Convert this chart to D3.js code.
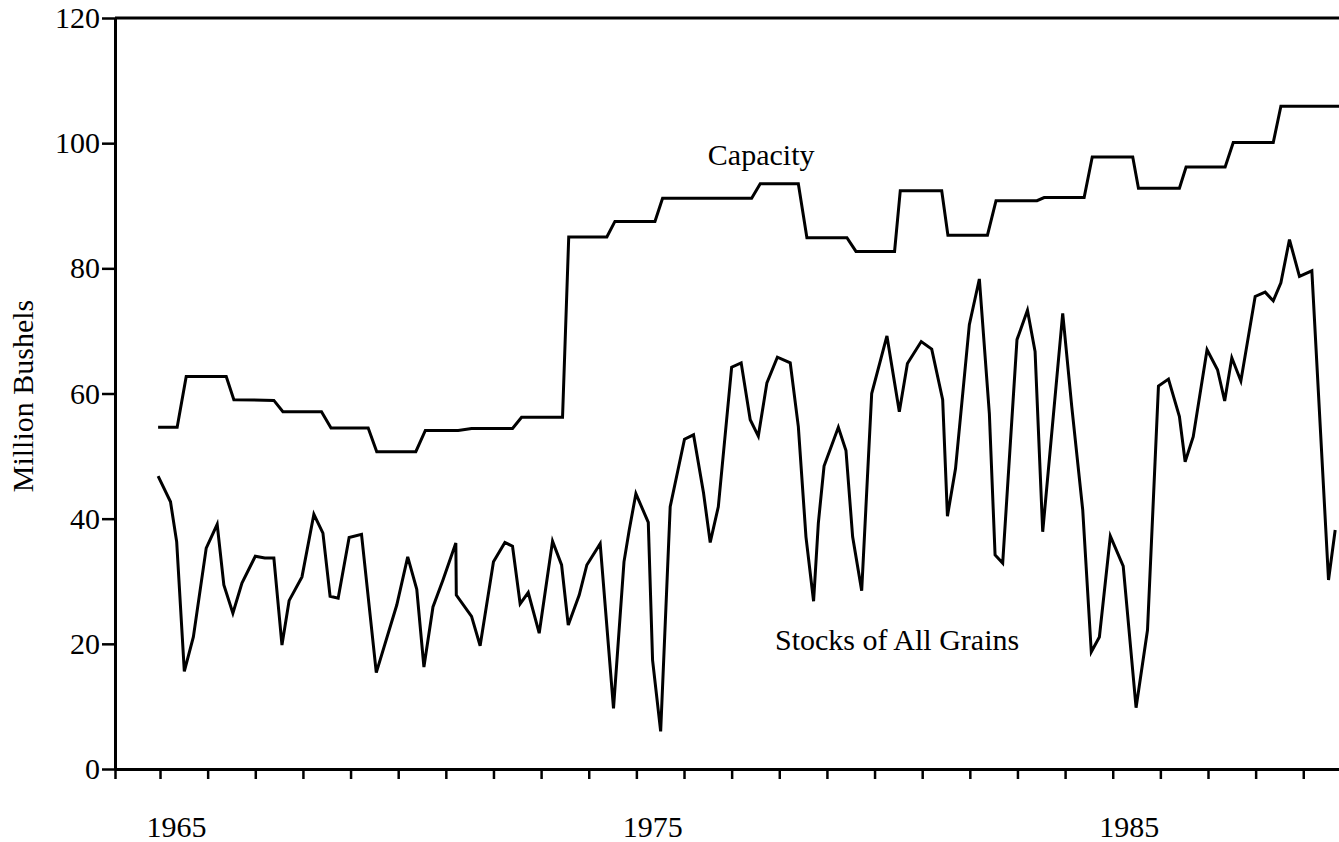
<!DOCTYPE html>
<html>
<head>
<meta charset="utf-8">
<script src="https://cdn.jsdelivr.net/npm/d3@7"></script>
<style>
  html, body { margin: 0; padding: 0; background: #fff; }
  svg { display: block; font-family: "Liberation Serif", "Times New Roman", serif; }
</style>
</head>
<body>
<div id="chart"></div>
<script>
// stocks of all grains, million bushels (date as decimal year)
const stockDates = [
  1964.96, 1965.22, 1965.35, 1965.51, 1965.70, 1965.97, 1966.20, 1966.34, 1966.53, 1966.72,
  1967.00, 1967.20, 1967.39, 1967.56, 1967.71, 1967.98, 1968.23, 1968.42, 1968.57, 1968.74,
  1968.97, 1969.23, 1969.54, 1969.97, 1970.20, 1970.39, 1970.54, 1970.73, 1970.94, 1971.21,
  1971.22, 1971.54, 1971.72, 1972.00, 1972.24, 1972.40, 1972.56, 1972.73, 1972.96, 1973.24,
  1973.43, 1973.57, 1973.80, 1973.96, 1974.24, 1974.52, 1974.74, 1974.85, 1974.99, 1975.25,
  1975.34, 1975.51, 1975.71, 1976.01, 1976.20, 1976.41, 1976.55, 1976.72, 1977.00, 1977.20,
  1977.39, 1977.56, 1977.74, 1977.96, 1978.23, 1978.40, 1978.56, 1978.72, 1978.82, 1978.94,
  1979.24, 1979.40, 1979.54, 1979.73, 1979.94, 1980.26, 1980.52, 1980.69, 1980.98, 1981.20,
  1981.43, 1981.53, 1981.70, 1981.99, 1982.20, 1982.41, 1982.53, 1982.69, 1982.99, 1983.21,
  1983.37, 1983.53, 1983.95, 1984.14, 1984.37, 1984.55, 1984.72, 1984.95, 1985.22, 1985.49,
  1985.73, 1985.96, 1986.17, 1986.40, 1986.52, 1986.69, 1986.98, 1987.20, 1987.35, 1987.50,
  1987.69, 1987.99, 1988.20, 1988.37, 1988.53, 1988.71, 1988.92, 1989.18, 1989.53, 1989.67
];
const stockValues = [
  46.8, 42.7, 36.3, 15.6, 21.1, 35.3, 39.1, 29.4, 24.9, 29.7,
  34.0, 33.7, 33.7, 19.8, 26.9, 30.7, 40.7, 37.7, 27.6, 27.3,
  37.0, 37.5, 15.4, 26.2, 33.9, 28.7, 16.3, 25.9, 30.2, 36.1,
  27.8, 24.4, 19.7, 33.1, 36.2, 35.6, 26.4, 28.2, 21.7, 36.4,
  32.6, 23.0, 27.8, 32.6, 36.0, 9.7, 33.1, 38.2, 44.0, 39.4,
  17.4, 6.0, 41.9, 52.7, 53.4, 44.1, 36.2, 41.9, 64.2, 64.9,
  55.8, 53.2, 61.7, 65.8, 64.9, 54.7, 37.1, 26.8, 39.3, 48.4,
  54.6, 50.9, 37.1, 28.5, 60.0, 69.2, 57.1, 64.8, 68.3, 67.1,
  59.0, 40.4, 48.0, 71.0, 78.3, 56.8, 34.2, 32.9, 68.6, 73.3,
  66.7, 37.9, 72.8, 57.9, 41.4, 18.7, 21.1, 37.2, 32.4, 9.8,
  22.2, 61.2, 62.3, 56.3, 49.1, 53.1, 67.0, 63.8, 58.8, 65.7,
  62.0, 75.5, 76.2, 74.8, 77.7, 84.6, 78.7, 79.6, 30.2, 38.2
];

// storage capacity, million bushels
const capacityDates = [
  1964.96, 1965.36, 1965.55, 1966.39, 1966.55, 1967.39, 1967.58, 1968.39, 1968.59, 1969.37,
  1969.55, 1970.37, 1970.57, 1971.26, 1971.54, 1972.40, 1972.59, 1973.45, 1973.58, 1974.38,
  1974.55, 1975.39, 1975.55, 1977.42, 1977.60, 1978.40, 1978.58, 1979.42, 1979.61, 1980.42,
  1980.54, 1981.41, 1981.54, 1982.37, 1982.55, 1983.41, 1983.56, 1984.40, 1984.57, 1985.42,
  1985.54, 1986.40, 1986.54, 1987.36, 1987.53, 1988.37, 1988.53, 1989.75
];
const capacityValues = [
  54.6, 54.6, 62.7, 62.7, 59.0, 58.9, 57.1, 57.1, 54.5, 54.5,
  50.7, 50.7, 54.1, 54.1, 54.4, 54.4, 56.2, 56.2, 85.0, 85.0,
  87.5, 87.5, 91.2, 91.2, 93.5, 93.5, 84.9, 84.9, 82.7, 82.7,
  92.4, 92.4, 85.3, 85.3, 90.8, 90.8, 91.3, 91.3, 97.8, 97.8,
  92.8, 92.8, 96.2, 96.2, 100.1, 100.1, 105.9, 105.9
];

const yearTicks = d3.range(1965, 1990);
const labelledYears = [1965, 1975, 1985];
const yTicks = [0, 20, 40, 60, 80, 100, 120];

const seriesLabels = [
  { text: 'Capacity', year: 1977.62, value: 96.5, anchor: 'middle' },
  { text: 'Stocks of All Grains', year: 1977.91, value: 19.0, anchor: 'start' }
];

const svgWidth = 1339;
const svgHeight = 842;
const margin = { top: 18, right: 0, bottom: 73, left: 115 };

const svg = d3.select('#chart')
  .append('svg')
  .attr('width', svgWidth)
  .attr('height', svgHeight);

const xScale = d3.scaleLinear()
  .domain([1964.055, 1989.75])
  .range([margin.left, svgWidth - margin.right]);

const yScale = d3.scaleLinear()
  .domain([0, 120])
  .range([svgHeight - margin.bottom, margin.top]);

const line = d3.line()
  .x(d => xScale(d[0]))
  .y(d => yScale(d[1]));

svg.append('path')
  .datum(d3.zip(capacityDates, capacityValues))
  .attr('fill', 'none')
  .attr('stroke', '#000')
  .attr('stroke-width', 3)
  .attr('d', line);

svg.append('path')
  .datum(d3.zip(stockDates, stockValues))
  .attr('fill', 'none')
  .attr('stroke', '#000')
  .attr('stroke-width', 3)
  .attr('d', line);

// top frame line
svg.append('line')
  .attr('x1', xScale.range()[0])
  .attr('x2', xScale.range()[1])
  .attr('y1', yScale(120))
  .attr('y2', yScale(120))
  .attr('stroke', '#000')
  .attr('stroke-width', 3);

const xAxis = svg.append('g')
  .attr('transform', `translate(0, ${yScale(0)})`)
  .call(d3.axisBottom(xScale)
    .tickValues([xScale.domain()[0]].concat(yearTicks))
    .tickSize(10)
    .tickSizeOuter(0)
    .tickFormat(d => labelledYears.includes(d) ? String(d) : ''));

xAxis.select('.domain').attr('stroke-width', 3);
xAxis.selectAll('.tick line').attr('stroke-width', 2.5);
xAxis.selectAll('.tick text')
  .attr('y', 68)
  .attr('dy', 0)
  .attr('dx', 16)
  .attr('fill', '#000')
  .style('font-size', '30px')
  .style('font-family', '"Liberation Serif", serif');

const yAxis = svg.append('g')
  .attr('transform', `translate(${margin.left}, 0)`)
  .call(d3.axisLeft(yScale)
    .tickValues(yTicks)
    .tickSize(13)
    .tickPadding(2)
    .tickSizeOuter(0));

yAxis.select('.domain').attr('stroke-width', 3);
yAxis.selectAll('.tick line').attr('stroke-width', 2.5);
yAxis.selectAll('.tick text')
  .attr('fill', '#000')
  .style('font-size', '30px')
  .style('font-family', '"Liberation Serif", serif');

svg.append('text')
  .attr('x', -396)
  .attr('y', 33)
  .attr('transform', 'rotate(-90)')
  .attr('text-anchor', 'middle')
  .style('font-size', '30px')
  .text('Million Bushels');

svg.selectAll('.series-label')
  .data(seriesLabels)
  .enter()
  .append('text')
  .attr('class', 'series-label')
  .attr('x', d => xScale(d.year))
  .attr('y', d => yScale(d.value))
  .attr('text-anchor', d => d.anchor)
  .style('font-size', '30px')
  .text(d => d.text);
</script>
</body>
</html>
